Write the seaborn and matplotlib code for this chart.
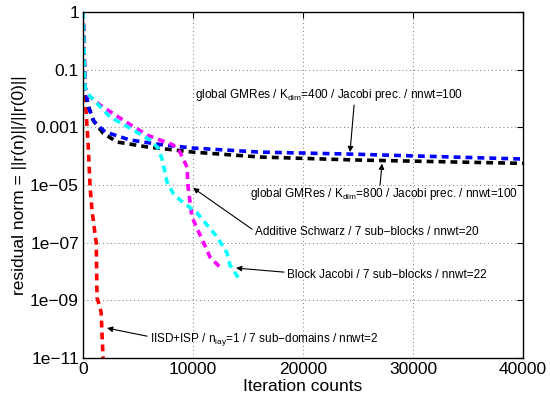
import numpy as np
import pandas as pd
import matplotlib
matplotlib.use("Agg")
import matplotlib.pyplot as plt
import seaborn as sns

MINUS = "\u2212"

# Convergence histories: iteration count vs. log10 of the relative residual
iisd_iter = [0, 180, 450, 640, 820, 1090, 1200, 1270, 1500, 1640, 1820]
iisd_log = [1.0, -1.9, -3.5, -5.07, -5.9, -6.7, -7.0, -8.9, -9.2, -9.4, -11.0]

gm800_iter = [0, 180, 400, 910, 1820, 3090, 5820, 10000, 16090, 24450, 40000]
gm800_log = [1.0, -1.6, -2.16, -2.75, -3.2, -3.51, -3.68, -3.86, -4.03, -4.13, -4.25]

gm400_iter = [0, 180, 500, 1000, 2000, 4270, 7270, 10000, 16090, 24450, 40000]
gm400_log = [1.0, -1.6, -2.3, -2.8, -3.16, -3.44, -3.61, -3.72, -3.86, -3.93, -4.1]

asw_iter = [0, 180, 450, 1550, 3640, 5820, 8180, 8800, 9450, 9550, 9900, 10850, 11540, 12450]
asw_log = [1.0, -1.6, -1.88, -2.23, -2.75, -3.27, -3.61, -3.85, -4.38, -5.07, -6.11, -6.91, -7.5, -7.85]

bj_iter = [0, 180, 360, 2450, 4550, 6090, 6820, 7180, 7640, 8180, 8820, 10360, 12180, 13090, 13360, 14270]
bj_log = [1.0, -1.6, -1.81, -2.64, -3.09, -3.44, -3.72, -4.1, -4.9, -5.28, -5.52, -5.97, -6.8, -7.36, -7.78, -8.3]

series = [
    ("IISD+ISP", iisd_iter, iisd_log, "#ff0000"),
    ("GMRes800", gm800_iter, gm800_log, "#000000"),
    ("GMRes400", gm400_iter, gm400_log, "#0000ff"),
    ("AddSchwarz", asw_iter, asw_log, "#ff00ff"),
    ("BlockJacobi", bj_iter, bj_log, "#00ffff"),
]

y_ticks = [1e-11, 1e-9, 1e-7, 1e-5, 1e-3, 1e-1, 1e1]
y_ticklabels = ["1e" + MINUS + "11", "1e" + MINUS + "09", "1e" + MINUS + "07",
                "1e" + MINUS + "05", "0.001", "0.1", "1"]
x_ticks = [0, 10000, 20000, 30000, 40000]
x_ticklabels = ["0", "10000", "20000", "30000", "40000"]

sns.set_theme(style="white")
plt.rcParams["font.family"] = ["Liberation Sans", "DejaVu Sans"]
plt.rcParams["mathtext.default"] = "regular"
plt.rcParams["text.color"] = "black"
plt.rcParams["axes.labelcolor"] = "black"

fig = plt.figure(figsize=(5.5, 3.97), dpi=100)
ax = fig.add_axes([0.151, 0.098, 0.800, 0.872])

for name, it, lg, col in series:
    df = pd.DataFrame({"iter": it, "res": np.power(10.0, lg)})
    sns.lineplot(data=df, x="iter", y="res", color=col, ax=ax,
                 estimator=None, sort=False, linewidth=2.6)
for ln in ax.lines:
    ln.set_dashes((1.9, 1.4))
    ln.set_dash_capstyle("butt")

ax.set_yscale("log")
ax.set_xlim(0, 40000)
ax.set_ylim(1e-11, 1e1)
ax.set_yticks(y_ticks)
ax.set_yticklabels(y_ticklabels)
ax.minorticks_off()
ax.set_xticks(x_ticks)
ax.set_xticklabels(x_ticklabels)
ax.tick_params(axis="both", which="both", direction="in", length=4, width=0.8,
               top=True, right=True, labelsize=12.5, colors="black", pad=3)

for x in x_ticks[1:-1]:
    ax.axvline(x, color="#777777", linestyle=(0, (1, 3)), linewidth=0.7, zorder=0)
for y in y_ticks[1:-1]:
    ax.axhline(y, color="#777777", linestyle=(0, (1, 3)), linewidth=0.7, zorder=0)

for s in ax.spines.values():
    s.set_color("black")
    s.set_linewidth(1.0)

ax.set_xlabel("Iteration counts", fontsize=12.5, labelpad=1, color="black")
ax.set_ylabel("residual norm = ||r(n)||/||r(0)||", fontsize=12.5, labelpad=2,
              color="black")

arrow = dict(arrowstyle="-|>", color="black", lw=0.8, mutation_scale=8,
             shrinkA=0, shrinkB=0)
fs = 8.5

def L(v):
    return 10.0 ** v

ax.text(10180, L(-1.88), "global GMRes / K$_{dim}$=400 / Jacobi prec. / nnwt=100",
        fontsize=fs, va="center", ha="left", color="black")
ax.annotate("", xy=(24270, L(-3.86)), xytext=(24640, L(-2.23)), arrowprops=arrow)

ax.text(15180, L(-5.31), "global GMRes / K$_{dim}$=800 / Jacobi prec. / nnwt=100",
        fontsize=fs, va="center", ha="left", color="black")
ax.annotate("", xy=(27180, L(-4.26)), xytext=(27000, L(-5.0)), arrowprops=arrow)

ax.text(15640, L(-6.63), "Additive Schwarz / 7 sub" + MINUS + "blocks / nnwt=20",
        fontsize=fs, va="center", ha="left", color="black")
ax.annotate("", xy=(10000, L(-5.1)), xytext=(15360, L(-6.53)), arrowprops=arrow)

ax.text(18550, L(-8.12), "Block Jacobi / 7 sub" + MINUS + "blocks / nnwt=22",
        fontsize=fs, va="center", ha="left", color="black")
ax.annotate("", xy=(13910, L(-7.88)), xytext=(18270, L(-8.02)), arrowprops=arrow)

ax.text(6090, L(-10.34), "IISD+ISP / n$_{lay}$=1 / 7 sub" + MINUS + "domains / nnwt=2",
        fontsize=fs, va="center", ha="left", color="black")
ax.annotate("", xy=(2180, L(-9.96)), xytext=(5820, L(-10.24)), arrowprops=arrow)

fig.savefig("out.png", dpi=100)
